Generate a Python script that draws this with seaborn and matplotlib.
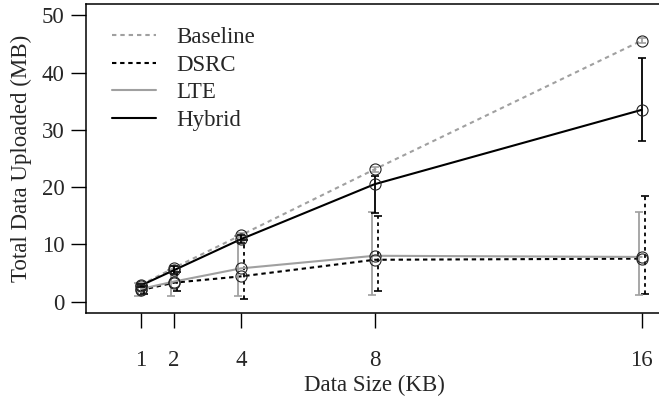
import numpy as np
import pandas as pd
import matplotlib
matplotlib.use("Agg")
import matplotlib.pyplot as plt
import seaborn as sns

# data
data_size = [1, 2, 4, 8, 16]
series = ["Baseline", "DSRC", "LTE", "Hybrid"]

baseline = [2.9, 5.9, 11.6, 23.1, 45.6]
baseline_lo = [2.6, 5.6, 11.2, 22.7, 45.1]
baseline_hi = [3.2, 6.2, 12.0, 23.5, 46.1]

dsrc = [2.0, 3.3, 4.4, 7.3, 7.5]
dsrc_lo = [1.4, 1.9, 0.4, 1.8, 1.4]
dsrc_hi = [2.8, 5.2, 10.7, 14.9, 18.4]

lte = [2.2, 3.5, 5.8, 8.0, 7.8]
lte_lo = [1.0, 1.0, 0.9, 1.2, 1.2]
lte_hi = [3.2, 5.5, 11.5, 15.7, 15.7]

hybrid = [2.8, 5.5, 10.9, 20.5, 33.5]
hybrid_lo = [2.5, 4.8, 10.2, 15.4, 28.0]
hybrid_hi = [3.1, 6.2, 11.6, 22.0, 42.6]

sns.set_theme(style="white")
plt.rcParams["font.family"] = ["Liberation Serif", "DejaVu Serif"]
plt.rcParams["font.size"] = 16.5

GRAY = "#a0a0a0"
estilos = {
    "Baseline": dict(y=baseline, lo=baseline_lo, hi=baseline_hi, color=GRAY,
                     ls=(0, (2.1, 1.9)), off=0.0, bar_ls="-"),
    "DSRC": dict(y=dsrc, lo=dsrc_lo, hi=dsrc_hi, color="black",
                 ls=(0, (2.1, 1.8)), off=0.1, bar_ls=(0, (2, 2))),
    "LTE": dict(y=lte, lo=lte_lo, hi=lte_hi, color=GRAY,
                ls="-", off=-0.08, bar_ls="-"),
    "Hybrid": dict(y=hybrid, lo=hybrid_lo, hi=hybrid_hi, color="black",
                   ls="-", off=0.0, bar_ls="-"),
}

fig = plt.figure(figsize=(6.59, 4.03), dpi=100)
ax = fig.add_axes([86 / 659, 1 - 313 / 403, 577 / 659, 309 / 403])

x = np.array(data_size, dtype=float)
for nome in series:
    s = estilos[nome]
    df = pd.DataFrame({"size": data_size, "val": s["y"]})
    sns.lineplot(data=df, x="size", y="val", ax=ax, color=s["color"],
                 linestyle=s["ls"], linewidth=1.5, label=nome)
    y = np.array(s["y"])
    err = [y - np.array(s["lo"]), np.array(s["hi"]) - y]
    eb = ax.errorbar(x + s["off"], y, yerr=err, fmt="none", ecolor=s["color"],
                     elinewidth=1.3, capsize=2.6, capthick=1.2)
    for col in eb[2]:
        col.set_linestyle(s["bar_ls"])
    ax.plot(x, y, linestyle="none", marker="o", markersize=8,
            markerfacecolor="none", markeredgecolor="#222222",
            markeredgewidth=0.8, zorder=5)

ax.set_xlim(-0.64, 16.64)
ax.set_ylim(-2, 52)
ax.set_xticks(data_size)
ax.set_yticks([0, 10, 20, 30, 40, 50])
ax.tick_params(axis="both", which="major", direction="out", length=10.5,
               width=1.0, color="black", labelsize=16.5, bottom=True, left=True)
ax.tick_params(axis="x", pad=16)
ax.tick_params(axis="y", pad=5)
for sp in ax.spines.values():
    sp.set_color("black")
    sp.set_linewidth(1.1)

ax.set_xlabel("Data Size (KB)", fontsize=16.5, labelpad=3)
ax.set_ylabel("Total Data Uploaded (MB)", fontsize=16.5, labelpad=7)

ax.legend(loc="upper left", bbox_to_anchor=(112 / 659, 1 - 27 / 403),
          bbox_transform=fig.transFigure, frameon=False, borderpad=0,
          borderaxespad=0, handlelength=1.9, handletextpad=0.9,
          labelspacing=0.29, fontsize=16.5)

fig.savefig("out.png", dpi=100)
